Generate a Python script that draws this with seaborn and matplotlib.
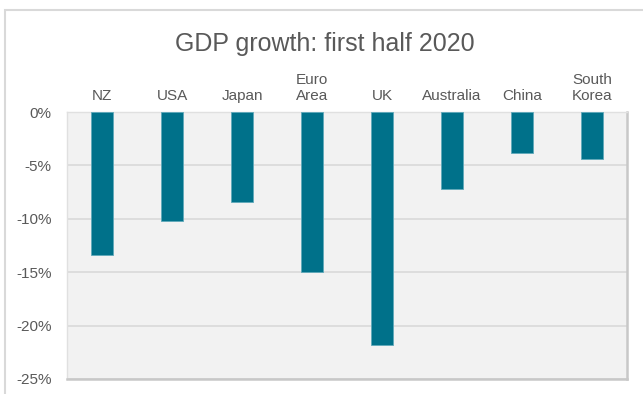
import matplotlib
matplotlib.use("Agg")
import matplotlib.pyplot as plt
import seaborn as sns
import pandas as pd
from matplotlib.ticker import FuncFormatter
from matplotlib.patches import Rectangle

categories = ["NZ", "USA", "Japan", "Euro\nArea", "UK", "Australia", "China", "South\nKorea"]
growth = [-13.4, -10.2, -8.4, -15.0, -21.8, -7.2, -3.8, -4.4]
yticks = [0, -5, -10, -15, -20, -25]

df = pd.DataFrame({"country": categories, "growth": growth})

sns.set_theme(style="white")
plt.rcParams["font.family"] = ["Liberation Sans", "DejaVu Sans"]

text_color = "#595959"
bar_color = "#00718A"

fig = plt.figure(figsize=(6.43, 3.94), dpi=100)
ax = fig.add_axes([67/643, 1-379/394, (627-67)/643, (379-112)/394])

sns.barplot(data=df, x="country", y="growth", color=bar_color, width=0.31,
            saturation=1, ax=ax, zorder=3, edgecolor="#5FA9BA", linewidth=0.6)

ax.set_facecolor("#F2F2F2")
ax.set_ylim(-25, 0)
ax.set_xlim(-0.5, len(categories) - 0.5)
ax.set_yticks(yticks)
ax.yaxis.set_major_formatter(FuncFormatter(lambda v, p: f"{v:.0f}%"))
ax.grid(axis="y", color="#D9D9D9", linewidth=1.2, zorder=0)
ax.grid(axis="x", visible=False)
ax.set_axisbelow(True)

ax.xaxis.tick_top()
ax.tick_params(axis="x", length=0, pad=6.5, labelsize=11, labelcolor=text_color)
ax.tick_params(axis="y", length=0, pad=11, labelsize=11, labelcolor=text_color)
ax.set_xlabel("")
ax.set_ylabel("")

for side in ["left", "top"]:
    ax.spines[side].set_color("#E0E0E0")
    ax.spines[side].set_linewidth(1.0)
for side in ["right", "bottom"]:
    ax.spines[side].set_color("#C8C8C8")
    ax.spines[side].set_linewidth(1.8)

fig.text(0.505, 1 - 51/394, "GDP growth: first half 2020", ha="center", va="baseline",
         fontsize=18, color=text_color)

fig.patches.append(Rectangle((5/643, -0.1), 1.2, 1 - 10/394 + 0.1, transform=fig.transFigure,
                             fill=False, edgecolor="#D9D9D9", linewidth=1.5, zorder=0))

fig.savefig("out.png", dpi=100)
